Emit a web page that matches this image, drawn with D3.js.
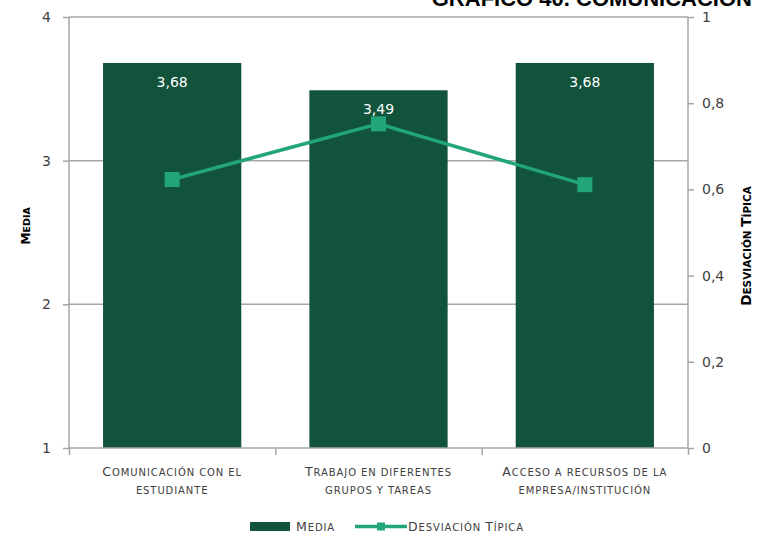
<!DOCTYPE html>
<html><head><meta charset="utf-8">
<script src="https://cdn.jsdelivr.net/npm/d3@7"></script>
<style>body{margin:0;background:#fff}svg{display:block}</style>
</head><body>
<svg id="c" width="760" height="535"></svg>
<script>
const categories = [["Comunicación con el","estudiante"],["Trabajo en diferentes","grupos y tareas"],["Acceso a recursos de la","empresa/institución"]];
const media = [3.68, 3.49, 3.68];
const mediaLabels = ["3,68","3,49","3,68"];
const desviacion = [0.623, 0.752, 0.611];
const leftTicks = [1,2,3,4];
const rightTicks = [0,0.2,0.4,0.6,0.8,1];
const rightTickLabels = ["0","0,2","0,4","0,6","0,8","1"];
const seriesNames = ["Media","Desviación Típica"];
const title = "GRÁFICO 40. COMUNICACIÓN";

const svg = d3.select("#c");
const L=69,R=688,T=17,B=448;
const barColor="#12533c", lineColor="#22a578", axisColor="#a6a6a6", textColor="#404040";
const font="'DejaVu Sans', Verdana, sans-serif";

function smallCaps(sel, str, big, small){
  const runs=[];
  for(const ch of str){
    const up = ch!==ch.toLowerCase();
    const sz = up?big:small;
    const c = ch.toUpperCase();
    if(runs.length && runs[runs.length-1].sz===sz) runs[runs.length-1].t+=c;
    else runs.push({sz,t:c});
  }
  runs.forEach(r=>sel.append("tspan").attr("font-size",r.sz).text(r.t));
}

const x = d3.scaleBand().domain(d3.range(categories.length)).range([L,R]).paddingInner(0.33).paddingOuter(0.165);
const yL = d3.scaleLinear().domain([1,4]).range([B,T]);
const yR = d3.scaleLinear().domain([0,1]).range([B,T]);

// title (cut off at top, as in the reference)
svg.append("text").attr("x",752).attr("y",6).attr("text-anchor","end")
  .attr("font-family","'Liberation Sans', Arial, sans-serif").attr("font-weight","bold").attr("font-size",22)
  .attr("fill","#000").text(title);

// gridlines
svg.append("g").selectAll("line").data([2,3]).join("line")
  .attr("x1",L).attr("x2",R).attr("y1",d=>yL(d)).attr("y2",d=>yL(d))
  .attr("stroke",axisColor).attr("stroke-width",1.5);
svg.append("line").attr("x1",L).attr("x2",R).attr("y1",T).attr("y2",T).attr("stroke",axisColor).attr("stroke-width",1.5);

// bars
svg.append("g").selectAll("rect").data(media).join("rect")
  .attr("x",(d,i)=>x(i)).attr("width",x.bandwidth())
  .attr("y",d=>yL(d)).attr("height",d=>B-yL(d)).attr("fill",barColor);

// bar labels
svg.append("g").selectAll("text").data(media).join("text")
  .attr("x",(d,i)=>x(i)+x.bandwidth()/2).attr("y",d=>yL(d)+24)
  .attr("text-anchor","middle").attr("font-family",font).attr("font-size",14)
  .attr("fill","#fff").text((d,i)=>mediaLabels[i]);

// axes
const gL = svg.append("g").attr("transform",`translate(${L},0)`)
  .call(d3.axisLeft(yL).tickValues(leftTicks).tickSize(6).tickPadding(12).tickFormat(d3.format("d")));
const gR = svg.append("g").attr("transform",`translate(${R},0)`)
  .call(d3.axisRight(yR).tickValues(rightTicks).tickSize(6).tickPadding(8).tickFormat((d,i)=>rightTickLabels[i]));
const gB = svg.append("g").attr("transform",`translate(0,${B})`)
  .call(d3.axisBottom(d3.scaleLinear().domain([0,3]).range([L,R])).tickValues([0,1,2,3]).tickSize(7).tickFormat(""));
[gL,gR,gB].forEach(g=>{
  g.select(".domain").attr("stroke",axisColor).attr("stroke-width",1.5);
  g.selectAll(".tick line").attr("stroke",axisColor).attr("stroke-width",1.5);
  g.selectAll(".tick text").attr("fill",textColor).attr("font-family",font).attr("font-size",14);
});
gB.select(".domain").attr("d",`M${L},0H${R}`);
gL.select(".domain").attr("d",`M0,${T}V${B}`);
gR.select(".domain").attr("d",`M0,${T}V${B}`);

// category labels
categories.forEach((d,i)=>{
  d.forEach((s,j)=>{
    const t = svg.append("text").attr("x",x(i)+x.bandwidth()/2).attr("y",476+j*18)
      .attr("text-anchor","middle").attr("font-family",font).attr("letter-spacing",0.9).attr("fill",textColor);
    smallCaps(t,s,12.5,10);
  });
});

// line
const pts = desviacion.map((d,i)=>[x(i)+x.bandwidth()/2,yR(d)]);
svg.append("path").attr("d",d3.line()(pts)).attr("fill","none").attr("stroke",lineColor).attr("stroke-width",3.5);
svg.append("g").selectAll("rect").data(pts).join("rect")
  .attr("x",d=>d[0]-7.5).attr("y",d=>d[1]-7.5).attr("width",15).attr("height",15).attr("fill",lineColor);

// axis titles
const t1 = svg.append("text").attr("transform",`translate(30,226) rotate(-90)`).attr("text-anchor","middle")
  .attr("font-family",font).attr("font-weight","bold").attr("fill","#000");
smallCaps(t1,seriesNames[0],12.5,9.5);
const t2 = svg.append("text").attr("transform",`translate(751,246) rotate(-90)`).attr("text-anchor","middle")
  .attr("font-family",font).attr("font-weight","bold").attr("fill","#000");
smallCaps(t2,seriesNames[1],13.5,10.5);

// legend
const lg = svg.append("g");
lg.append("rect").attr("x",250).attr("y",522).attr("width",40).attr("height",9).attr("fill",barColor);
const l1 = lg.append("text").attr("x",296).attr("y",531).attr("font-family",font).attr("letter-spacing",0.9).attr("fill",textColor);
smallCaps(l1,seriesNames[0],12.5,10);
lg.append("line").attr("x1",355).attr("x2",407).attr("y1",526.5).attr("y2",526.5).attr("stroke",lineColor).attr("stroke-width",3.5);
lg.append("rect").attr("x",377).attr("y",522.5).attr("width",8).attr("height",8).attr("fill",lineColor);
const l2 = lg.append("text").attr("x",408).attr("y",531).attr("font-family",font).attr("letter-spacing",0.9).attr("fill",textColor);
smallCaps(l2,seriesNames[1],12.5,10);
</script>
</body></html>
